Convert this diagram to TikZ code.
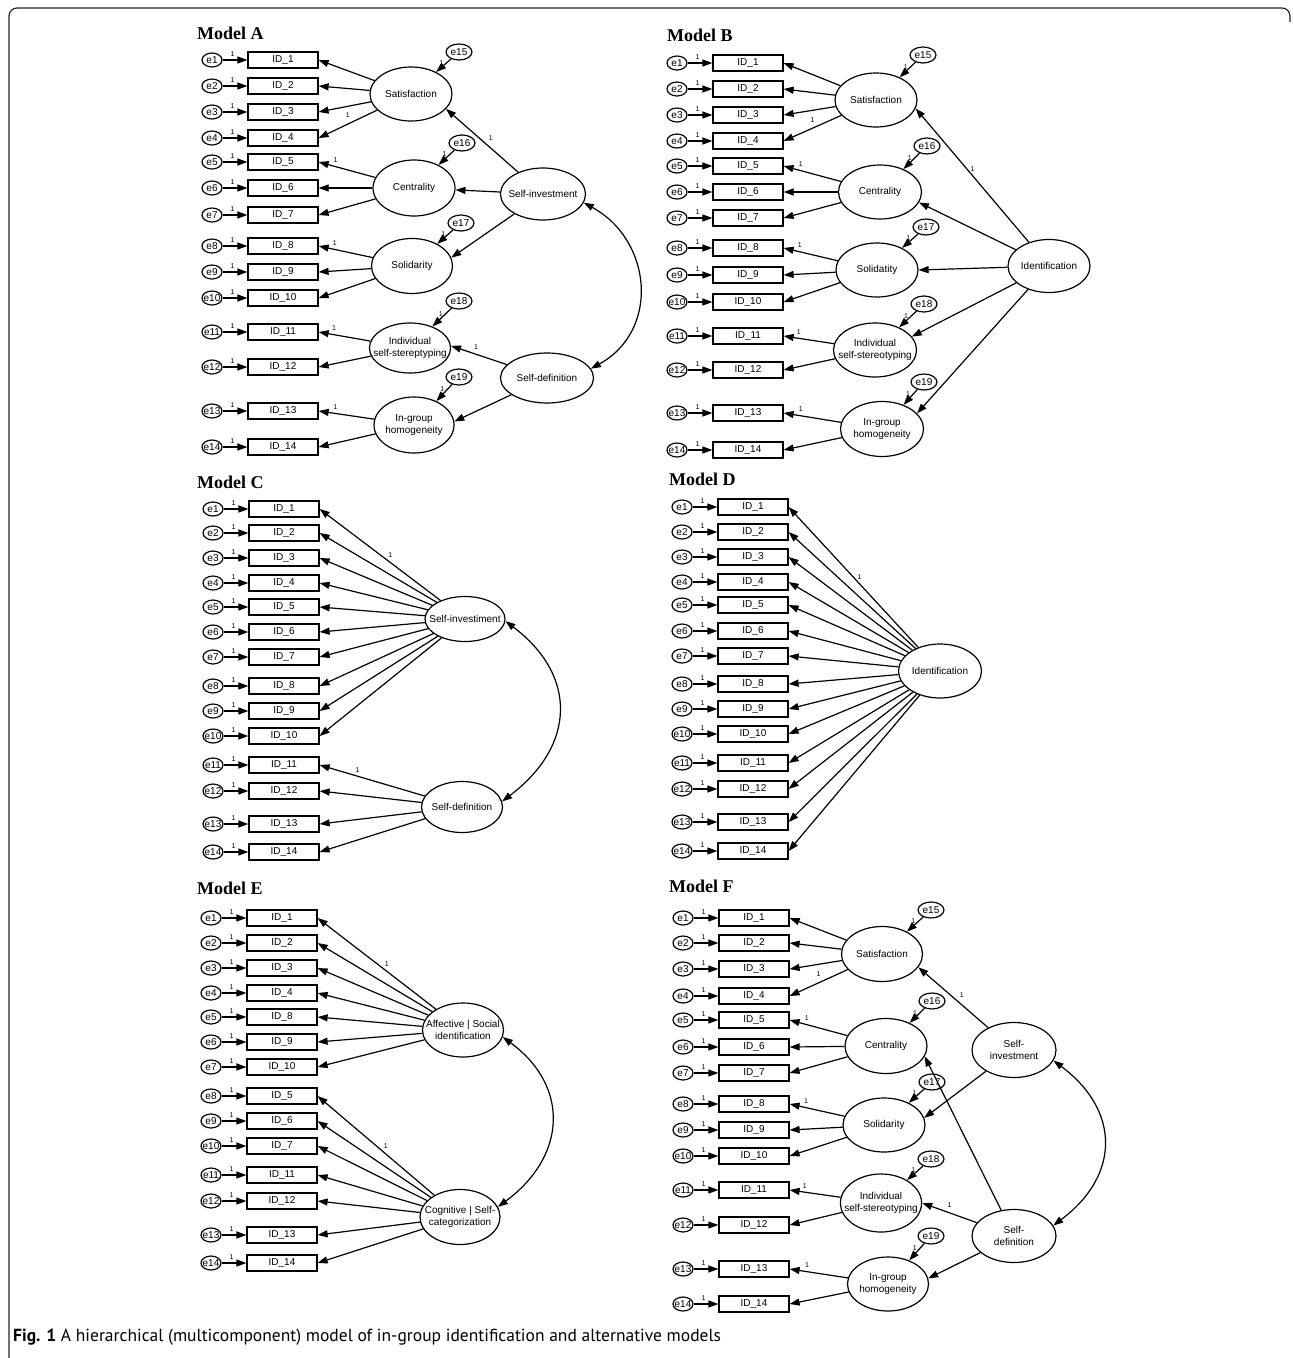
\documentclass[tikz,border=0pt]{standalone}
\usepackage{fontspec}
\setmainfont{Liberation Sans}
\newfontfamily\serifttl{Liberation Serif}
\newfontfamily\capsans{PT Sans}
\usetikzlibrary{arrows.meta,shapes.geometric}

\tikzset{
  obsbox/.style={draw, line width=1.2pt, minimum width=70pt, minimum height=16pt,
    inner sep=0pt, font=\fontsize{10}{12}\selectfont},
  errc/.style={draw, ellipse, line width=1.2pt, minimum width=20pt, minimum height=14pt,
    inner xsep=-3pt, inner ysep=0pt, font=\fontsize{10}{12}\selectfont},
  errlat/.style={errc, minimum width=26pt, minimum height=16pt},
  latent/.style={draw, ellipse, line width=1.2pt, minimum width=82pt, minimum height=54pt,
    inner xsep=-8pt, inner ysep=0pt, align=center, font=\fontsize{10}{12.5}\selectfont},
  load/.style={line width=1.2pt, -{Triangle[length=10pt,width=7pt]}},
  covarrow/.style={line width=1.2pt, {Triangle[length=10pt,width=7pt]}-{Triangle[length=10pt,width=7pt]}},
  onelbl/.style={font=\fontsize{7}{8}\selectfont, inner sep=0.5pt},
  modeltitle/.style={anchor=west, inner sep=0pt, font=\serifttl\bfseries\fontsize{18}{20}\selectfont}
}

% indicator column: #1 model prefix, #2 x of e, #3 x of box, #4 list k/item/y
\newcommand{\itemcol}[4]{%
  \foreach \k/\idn/\yy in {#4} {
    \node[errc] (#1e\k) at (#2,\yy) {e\k};
    \node[obsbox] (#1v\k) at (#3,\yy) {ID\_\idn};
    \draw[load] (#1e\k) -- node[onelbl, pos=.4, above=2pt] {1} (#1v\k);
  }%
}
% residuals of first-order factors: #1 prefix, #2 list k/x/y/factor
\newcommand{\errcol}[2]{%
  \foreach \k/\xx/\yy/\tg in {#2} {
    \node[errlat] (#1e\k) at (\xx,\yy) {e\k};
    \draw[load] (#1e\k) -- node[onelbl, pos=.3, left=2pt] {1} (#1\tg);
  }%
}

\begin{document}
\begin{tikzpicture}[x=1pt, y=-1pt]
\useasboundingbox (0,0) rectangle (1293,1358);
\draw[line width=1.2pt, black!85, rounded corners=8pt] (9,1358) -- (9,8) -- (1290,8) -- (1290,22);
\node[anchor=west, inner sep=0pt, font=\capsans\fontsize{17.5}{20}\selectfont] (caption) at (13,1337)
  {\textbf{Fig. 1} A hierarchical (multicomponent) model of in-group identification and alternative models};

% ---------------- Model A
\node[modeltitle] (Atitle) at (197,33) {Model A};
\itemcol{A}{212}{283}{1/1/60,2/2/86,3/3/112,4/4/138,5/5/162,6/6/188,7/7/215,
  8/8/246,9/9/272,10/10/298,11/11/332,12/12/367,13/13/411,14/14/447}
\node[latent] (AS) at (411,94) {Satisfaction};
\node[latent, minimum height=56pt] (AC) at (414,188) {Centrality};
\node[latent, minimum width=81pt, minimum height=55pt] (AL) at (412,266) {Solidarity};
\node[latent, minimum width=80pt, minimum height=50pt] (AI) at (410,348) {Individual\\self-stereptyping};
\node[latent, minimum width=80pt, minimum height=56pt] (AH) at (414,425) {In-group\\homogeneity};
\node[latent, minimum width=85pt, minimum height=52pt] (AN) at (543,194) {Self-investment};
\node[latent, minimum width=93pt, minimum height=50pt] (AD) at (547,378) {Self-definition};
\errcol{A}{15/459/52/S,16/462/143/C,17/461/223/L,18/459/301/I,19/459/377/H}
\foreach \k in {1,2,3} \draw[load] (AS) -- (Av\k.east);
\draw[load] (AS) -- node[onelbl, pos=.5, above=5pt] {1} (Av4.east);
\draw[load] (AC) -- node[onelbl, pos=.7, above=3pt] {1} (Av5.east);
\foreach \k in {6,7} \draw[load] (AC) -- (Av\k.east);
\draw[load] (AL) -- node[onelbl, pos=.7, above=3pt] {1} (Av8.east);
\foreach \k in {9,10} \draw[load] (AL) -- (Av\k.east);
\draw[load] (AI) -- node[onelbl, pos=.7, above=3pt] {1} (Av11.east);
\draw[load] (AI) -- (Av12.east);
\draw[load] (AH) -- node[onelbl, pos=.7, above=3pt] {1} (Av13.east);
\draw[load] (AH) -- (Av14.east);
\draw[load] (AN) -- node[onelbl, pos=.45, above right=2pt] {1} (AS.-23);
\draw[load] (AN) -- (AC);
\draw[load] (AN) -- (AL.12);
\draw[load] (AD) -- node[onelbl, pos=.55, above=4pt] {1} (AI.3);
\draw[load] (AD) -- (AH.5);
\draw[covarrow] (AN.-12) .. controls +(69,38) and +(69,-38) .. (AD.12);

% ---------------- Model B
\node[modeltitle] (Btitle) at (667,35) {Model B};
\itemcol{B}{677}{748}{1/1/63,2/2/89,3/3/115,4/4/141,5/5/166,6/6/192,7/7/218,
  8/8/248,9/9/275,10/10/302,11/11/336,12/12/370,13/13/413,14/14/450}
\node[latent] (BS) at (876,100) {Satisfaction};
\node[latent, minimum width=83pt] (BC) at (880,192) {Centrality};
\node[latent] (BL) at (877,270) {Solidatity};
\node[latent, minimum width=83pt] (BI) at (875,350) {Individual\\self-stereotyping};
\node[latent, minimum width=83pt, minimum height=55pt] (BH) at (882,429) {In-group\\homogeneity};
\node[latent, minimum height=53pt] (BD) at (1049,266) {Identification};
\errcol{B}{15/923/55/S,16/927/146/C,17/926/227/L,18/924/304/I,19/924/382/H}
\foreach \k in {1,2,3} \draw[load] (BS) -- (Bv\k.east);
\draw[load] (BS) -- node[onelbl, pos=.5, above=5pt] {1} (Bv4.east);
\draw[load] (BC) -- node[onelbl, pos=.7, above=3pt] {1} (Bv5.east);
\foreach \k in {6,7} \draw[load] (BC) -- (Bv\k.east);
\draw[load] (BL) -- node[onelbl, pos=.7, above=3pt] {1} (Bv8.east);
\foreach \k in {9,10} \draw[load] (BL) -- (Bv\k.east);
\draw[load] (BI) -- node[onelbl, pos=.7, above=3pt] {1} (Bv11.east);
\draw[load] (BI) -- (Bv12.east);
\draw[load] (BH) -- node[onelbl, pos=.7, above=3pt] {1} (Bv13.east);
\draw[load] (BH) -- (Bv14.east);
\draw[load] (BD) -- node[onelbl, pos=.55, right=3pt] {1} (BS.-12);
\draw[load] (BD) -- (BC.-15);
\draw[load] (BD) -- (BL.east);
\draw[load] (BD) -- (BI.20);
\draw[load] (BD) -- (BH.24);

% ---------------- Model C
\node[modeltitle] (Ctitle) at (197,482) {Model C};
\itemcol{C}{213}{284}{1/1/509,2/2/533,3/3/558,4/4/583,5/5/607,6/6/632,7/7/657,
  8/8/686,9/9/711,10/10/736,11/11/765,12/12/791,13/13/824,14/14/852}
\node[latent, minimum width=80pt, minimum height=45pt, inner xsep=-10pt] (CN) at (465,619) {Self-investiment};
\node[latent, minimum width=81pt, minimum height=51pt] (CD) at (462,807) {Self-definition};
\draw[load] (CN) -- node[onelbl, pos=.45, above right=1pt] {1} (Cv1.east);
\foreach \k in {2,...,10} \draw[load] (CN) -- (Cv\k.east);
\draw[load] (CD) -- node[onelbl, pos=.64, above=3pt] {1} (Cv11.east);
\foreach \k in {12,13,14} \draw[load] (CD) -- (Cv\k.east);
\draw[covarrow] (CN.-3) .. controls +(73,55) and +(73,-55) .. (CD.8);

% ---------------- Model D
\node[modeltitle] (Dtitle) at (669,479) {Model D};
\itemcol{D}{682}{753}{1/1/507,2/2/532,3/3/557,4/4/582,5/5/605,6/6/631,7/7/656,
  8/8/684,9/9/709,10/10/734,11/11/763,12/12/789,13/13/822,14/14/851}
\node[latent, minimum width=83pt] (DD) at (940,671) {Identification};
\draw[load] (DD) -- node[onelbl, pos=.5, right=3pt] {1} (Dv1.east);
\foreach \k in {2,...,14} \draw[load] (DD) -- (Dv\k.east);

% ---------------- Model E
\node[modeltitle] (Etitle) at (197,888) {Model E};
\itemcol{E}{211}{282}{1/1/918,2/2/943,3/3/968,4/4/993,5/8/1017,6/9/1042,7/10/1067,
  8/5/1096,9/6/1121,10/7/1146,11/11/1175,12/12/1201,13/13/1235,14/14/1263}
\node[latent, minimum width=81pt, inner xsep=-12pt] (EA) at (463,1030) {Affective | Social\\identification};
\node[latent, minimum width=80pt, minimum height=55pt, inner xsep=-12pt] (EC) at (460,1217) {Cognitive | Self-\\categorization};
\draw[load] (EA) -- node[onelbl, pos=.45, above right=1pt] {1} (Ev1.east);
\foreach \k in {2,...,7} \draw[load] (EA) -- (Ev\k.east);
\draw[load] (EC) -- node[onelbl, pos=.45, above right=1pt] {1} (Ev8.east);
\foreach \k in {9,...,14} \draw[load] (EC) -- (Ev\k.east);
\draw[covarrow] (EA.-10) .. controls +(68,50) and +(68,-50) .. (EC.15);

% ---------------- Model F
\node[modeltitle] (Ftitle) at (669,886) {Model F};
\itemcol{F}{683}{754}{1/1/918,2/2/943,3/3/969,4/4/996,5/5/1020,6/6/1047,7/7/1073,
  8/8/1104,9/9/1130,10/10/1156,11/11/1190,12/12/1225,13/13/1269,14/14/1304}
\node[latent, minimum width=81pt, minimum height=55pt] (FS) at (882,954) {Satisfaction};
\node[latent, minimum height=55pt] (FC) at (886,1046) {Centrality};
\node[latent] (FL) at (884,1125) {Solidarity};
\node[latent, minimum width=81pt, minimum height=58pt] (FI) at (881,1203) {Individual\\self-stereotyping};
\node[latent, minimum width=81pt] (FH) at (888,1284) {In-group\\homogeneity};
\node[latent, minimum width=84pt, minimum height=55pt] (FN) at (1014,1050) {Self-\\investment};
\node[latent, minimum width=84pt, minimum height=53pt] (FD) at (1014,1236) {Self-\\definition};
\errcol{F}{15/931/910/S,16/932/1001/C,17/932/1082/L,18/931/1159/I,19/931/1236/H}
\foreach \k in {1,2,3} \draw[load] (FS) -- (Fv\k.east);
\draw[load] (FS) -- node[onelbl, pos=.5, above=5pt] {1} (Fv4.east);
\draw[load] (FC) -- node[onelbl, pos=.7, above=3pt] {1} (Fv5.east);
\foreach \k in {6,7} \draw[load] (FC) -- (Fv\k.east);
\draw[load] (FL) -- node[onelbl, pos=.7, above=3pt] {1} (Fv8.east);
\foreach \k in {9,10} \draw[load] (FL) -- (Fv\k.east);
\draw[load] (FI) -- node[onelbl, pos=.7, above=3pt] {1} (Fv11.east);
\draw[load] (FI) -- (Fv12.east);
\draw[load] (FH) -- node[onelbl, pos=.7, above=3pt] {1} (Fv13.east);
\draw[load] (FH) -- (Fv14.east);
\draw[load] (FN) -- node[onelbl, pos=.45, above right=2pt] {1} (FS.-20);
\draw[load] (FN) -- (FL.10);
\draw[load] (FD) -- (FC.-15);
\draw[load] (FD) -- node[onelbl, pos=.5, above=4pt] {1} (FI.east);
\draw[load] (FD) -- (FH.8);
\draw[covarrow] (FN.-15) .. controls +(67,50) and +(67,-50) .. (FD.15);
\end{tikzpicture}
\end{document}
